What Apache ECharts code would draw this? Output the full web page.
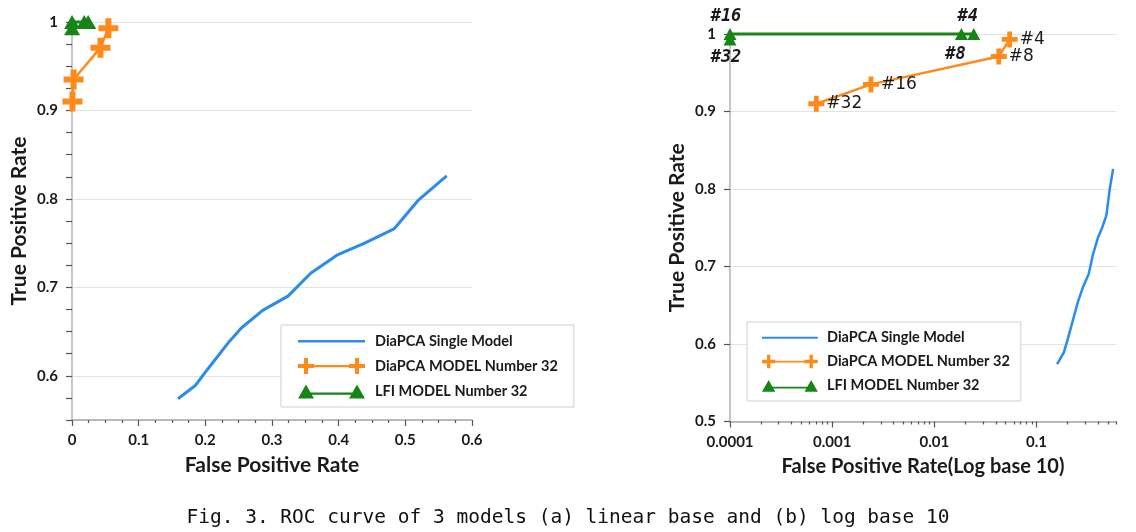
<!DOCTYPE html>
<html><head><meta charset="utf-8">
<script src="https://cdn.jsdelivr.net/npm/echarts@6/dist/echarts.min.js"></script>
<style>html,body{margin:0;padding:0;background:#fff}#c{width:1136px;height:532px}</style>
</head><body><div id="c"></div>
<script>
// ---------------- data ----------------
const seriesNames = ['DiaPCA Single Model', 'DiaPCA MODEL Number 32', 'LFI MODEL Number 32'];
const singleFPR = [0.159, 0.185, 0.202, 0.234, 0.254, 0.286, 0.324, 0.358, 0.399, 0.439, 0.483, 0.520, 0.562];
const singleTPR = [0.574, 0.589, 0.606, 0.637, 0.654, 0.674, 0.690, 0.716, 0.737, 0.750, 0.766, 0.799, 0.826];
const modelLabels = ['#32', '#16', '#8', '#4'];
const diaFPR = [0.0007, 0.0024, 0.0427, 0.0546];
const diaTPR = [0.910, 0.935, 0.971, 0.993];
const lfiFPR = [0.0001, 0.0001, 0.0184, 0.0243];
const lfiTPR = [0.993, 1.000, 1.000, 1.000];

const linXLabels = [0, 0.1, 0.2, 0.3, 0.4, 0.5, 0.6];
const linYLabels = [0.6, 0.7, 0.8, 0.9, 1];
const linYTicks = [0.55, 0.575, 0.6, 0.625, 0.65, 0.675, 0.7, 0.725, 0.75, 0.775, 0.8, 0.825, 0.85, 0.875, 0.9, 0.925, 0.95, 0.975, 1];
const logXLabels = [0.0001, 0.001, 0.01, 0.1];
const logXMinorTicks = [0.0002, 0.0003, 0.0004, 0.0005, 0.0006, 0.0007, 0.0008, 0.0009,
  0.002, 0.003, 0.004, 0.005, 0.006, 0.007, 0.008, 0.009,
  0.02, 0.03, 0.04, 0.05, 0.06, 0.07, 0.08, 0.09,
  0.2, 0.3, 0.4, 0.5, 0.6];
const caption = 'Fig. 3. ROC curve of 3 models (a) linear base and (b) log base 10';

// ---------------- styles ----------------
const BLUE = '#2b8cec', ORANGE = '#ff8a1c', GREEN = '#168516';
const FONT = 'Lato';
const zip = (a, b) => a.map((v, i) => [v, b[i]]);
const plusPath = 'path://M3.5,0h3v3.5h3.5v3h-3.5v3.5h-3v-3.5h-3.5v-3h3.5z';
const legendIcons = [
  'path://M0,0h0.01v0.01h-0.01zM0,7h67v2.6h-67zM71.99,15.99h0.01v0.01h-0.01z',
  'path://M6,0h4v6h6v4h-6v6h-4v-6h-6v-4h6zM16,7h35v2.2h-35zM57,0h4v6h6v4h-6v6h-4v-6h-6v-4h6zM71.99,15.99h0.01v0.01h-0.01z',
  'path://M0,0h0.01v0.01h-0.01zM0,15.5L8,1.5L16,15.5zM12,9.5h43v2.2h-43zM51,15.5L59,1.5L67,15.5zM71.99,15.99h0.01v0.01h-0.01z'
];
const axisLineStyle = { lineStyle: { color: '#a8a8a8', width: 1.5 } };
const tickStyle = { color: '#555', width: 1.2 };
const labelStyle = { color: '#1a1a1a', fontWeight: 'bold', fontFamily: FONT, fontSize: 15 };
const nameStyle = { color: '#1a1a1a', fontWeight: 'bold', fontFamily: FONT, fontSize: 21 };
const splitStyle = { show: true, lineStyle: { color: '#e2e2e2', width: 1.2 } };

const greenLabelCfg = {
  '#32': { position: 'bottom', distance: 4, offset: [-4, 0] },
  '#16': { position: 'top', distance: 3, offset: [-4, 0] },
  '#8': { position: 'bottom', distance: 6, offset: [-6, 0] },
  '#4': { position: 'top', distance: 3, offset: [-6, 0] }
};
const greenLabelText = { color: '#1a1a1a', fontFamily: 'DejaVu Sans Mono', fontWeight: 'bold', fontStyle: 'italic', fontSize: 17 };

function legend(left, top, iw, ih, fs, pad) {
  return {
    orient: 'vertical', left: left, top: top, itemWidth: iw, itemHeight: ih, itemGap: 9,
    padding: pad, borderColor: '#cfcfcf', borderWidth: 1, backgroundColor: '#fff',
    itemStyle: { borderWidth: 0 }, selectedMode: false,
    textStyle: { color: '#1a1a1a', fontWeight: 'bold', fontFamily: FONT, fontSize: fs },
    data: seriesNames.map((n, i) => ({ name: n, icon: legendIcons[i] }))
  };
}

const option = {
  animation: false,
  backgroundColor: '#fff',
  title: {
    text: caption, left: 'center', top: 503,
    textStyle: { fontFamily: 'DejaVu Sans Mono', fontWeight: 'normal', fontSize: 19.5, color: '#111' }
  },
  legend: [
    legend(281, 325, 72, 16, 14.5, [8, 16, 8, 17]),
    legend(747, 322, 60, 14, 14.5, [8, 11, 8, 15])
  ],
  grid: [
    { left: 72, top: 22, width: 400, height: 398, containLabel: false },
    { left: 730, top: 34, width: 386, height: 387.5, containLabel: false }
  ],
  xAxis: [
    {
      gridIndex: 0, type: 'value', min: 0, max: 0.6, interval: 0.1,
      name: 'False Positive Rate', nameLocation: 'middle', nameGap: 35, nameTextStyle: nameStyle,
      axisLine: axisLineStyle, axisTick: { show: true, length: 6, lineStyle: tickStyle },
      minorTick: { show: true, splitNumber: 4, length: 3, lineStyle: tickStyle },
      axisLabel: Object.assign({ margin: 13, customValues: linXLabels }, labelStyle),
      splitLine: { show: false }
    },
    {
      gridIndex: 1, type: 'log', logBase: 10, min: 0.0001, max: 0.6, position: 'bottom',
      name: 'False Positive Rate(Log base 10)', nameLocation: 'middle', nameGap: 35,
      nameTextStyle: Object.assign({}, nameStyle, { fontSize: 20 }),
      axisLine: axisLineStyle,
      axisTick: { show: true, length: 6, lineStyle: tickStyle, customValues: logXLabels },
      axisLabel: Object.assign({ margin: 13, customValues: logXLabels }, labelStyle),
      splitLine: { show: false }
    },
    {
      gridIndex: 1, type: 'log', logBase: 10, min: 0.0001, max: 0.6, position: 'bottom',
      axisLine: { show: false },
      axisTick: { show: true, length: 3, lineStyle: tickStyle, customValues: logXMinorTicks },
      axisLabel: { show: false }, splitLine: { show: false }
    }
  ],
  yAxis: [
    {
      gridIndex: 0, type: 'value', min: 0.55, max: 1,
      name: 'True Positive Rate', nameLocation: 'middle', nameGap: 42, nameTextStyle: nameStyle,
      axisLine: { show: true, lineStyle: { color: '#b5b5b5', width: 1.5 } },
      axisTick: { show: false },
      axisLabel: Object.assign({ margin: 14, customValues: linYLabels }, labelStyle),
      splitLine: splitStyle
    },
    {
      gridIndex: 1, type: 'value', min: 0.5, max: 1, interval: 0.1,
      name: 'True Positive Rate', nameLocation: 'middle', nameGap: 42, nameTextStyle: nameStyle,
      axisLine: { show: true, lineStyle: { color: '#b5b5b5', width: 1.5 } },
      axisTick: { show: true, length: 6, lineStyle: tickStyle },
      axisLabel: Object.assign({ margin: 14 }, labelStyle),
      splitLine: splitStyle
    },
    {
      gridIndex: 0, type: 'value', min: 0.55, max: 1, position: 'left',
      axisLine: { show: false },
      axisTick: { show: true, length: 6, lineStyle: tickStyle, customValues: linYTicks },
      axisLabel: { show: false }, splitLine: { show: false }
    }
  ],
  series: [
    {
      type: 'line', name: seriesNames[0], xAxisIndex: 0, yAxisIndex: 0,
      data: zip(singleFPR, singleTPR), symbol: 'none', clip: false,
      lineStyle: { color: BLUE, width: 3 }, itemStyle: { color: BLUE }
    },
    {
      type: 'line', name: seriesNames[1], xAxisIndex: 0, yAxisIndex: 0,
      data: zip(diaFPR, diaTPR), symbol: plusPath, symbolSize: 20, clip: false,
      lineStyle: { color: ORANGE, width: 2.5 }, itemStyle: { color: ORANGE }
    },
    {
      type: 'line', name: seriesNames[2], xAxisIndex: 0, yAxisIndex: 0,
      data: zip(lfiFPR, lfiTPR), symbol: 'triangle', symbolSize: [16, 14], clip: false,
      lineStyle: { color: GREEN, width: 3 }, itemStyle: { color: GREEN }
    },
    {
      type: 'line', name: seriesNames[0], xAxisIndex: 1, yAxisIndex: 1,
      data: zip(singleFPR, singleTPR), symbol: 'none', clip: false,
      lineStyle: { color: BLUE, width: 2.5 }, itemStyle: { color: BLUE }
    },
    {
      type: 'line', name: seriesNames[1], xAxisIndex: 1, yAxisIndex: 1,
      data: diaFPR.map((x, i) => ({ value: [x, diaTPR[i]], name: modelLabels[i] })),
      symbol: plusPath, symbolSize: 16, clip: false,
      lineStyle: { color: ORANGE, width: 2.5 }, itemStyle: { color: ORANGE },
      label: { show: true, position: 'right', distance: 2, formatter: p => p.name,
        color: '#1a1a1a', fontFamily: 'DejaVu Sans', fontSize: 17 }
    },
    {
      type: 'line', name: seriesNames[2], xAxisIndex: 1, yAxisIndex: 1,
      data: lfiFPR.map((x, i) => ({
        value: [x, lfiTPR[i]], name: modelLabels[i],
        label: Object.assign({ show: true, formatter: p => p.name }, greenLabelText, greenLabelCfg[modelLabels[i]])
      })),
      symbol: 'triangle', symbolSize: [13, 12], clip: false,
      lineStyle: { color: GREEN, width: 3 }, itemStyle: { color: GREEN }
    }
  ]
};

const chart = echarts.init(document.getElementById('c'), null, { renderer: 'canvas' });
chart.setOption(option);
</script>
</body></html>
